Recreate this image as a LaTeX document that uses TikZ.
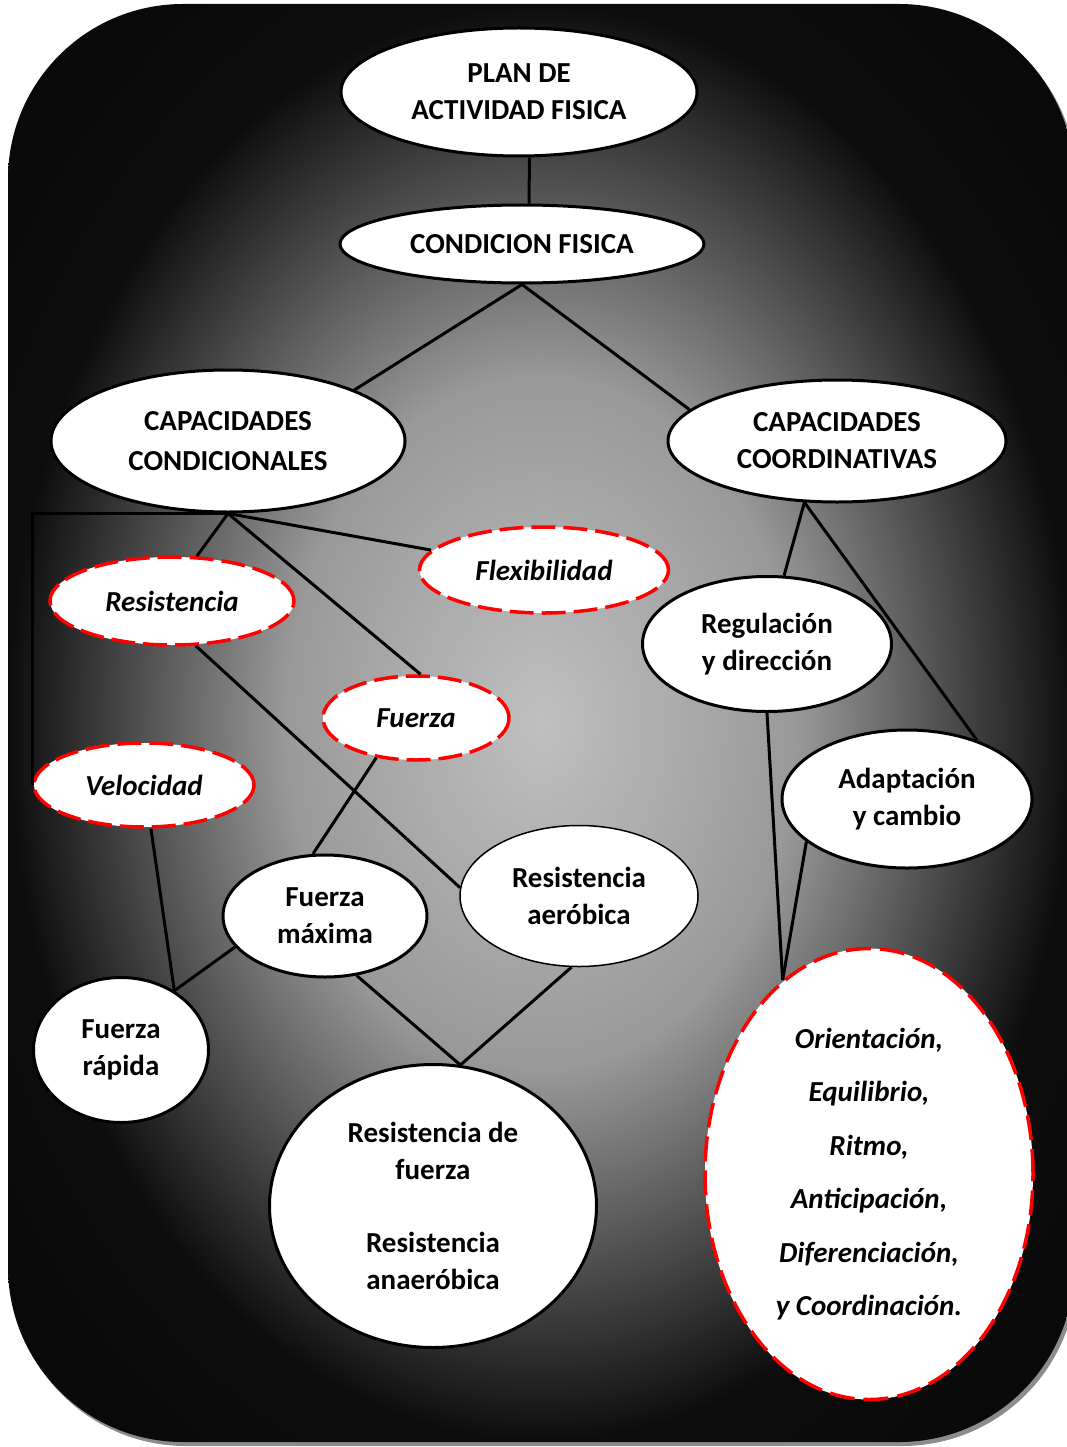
\documentclass[tikz,border=0pt]{standalone}
\usepackage{fontspec}
\setmainfont{Carlito}
\usepackage{tikz}
\usetikzlibrary{shapes.geometric}
\usetikzlibrary{calc}
\tikzset{node style ge/.style={ellipse,draw=black,line width=3pt,fill=white,inner sep=0pt,align=center,font=\bfseries\fontsize{29}{37}\selectfont}}
\tikzset{node style red/.style={node style ge,draw=red,line width=3.5pt,dash pattern=on 24pt off 8pt,font=\bfseries\itshape\fontsize{29}{37}\selectfont}}
\tikzset{line style ge/.style={line width=3pt,color=black}}
\pgfdeclareradialshading{bgshade}{\pgfpoint{0bp}{0bp}}{color(0bp)=(black!25); color(12bp)=(black!40); color(25bp)=(black!95); color(50bp)=(black)}

\begin{document}
\begin{tikzpicture}[x=1pt,y=-1pt]
   % [[[ background, rounded box with a grey shadow
   \useasboundingbox (0,0) rectangle (1066,1447);
   \fill [color=black!45,rounded corners=175pt] (11,8) rectangle (1077,1446);
   \shade [shading=bgshade,rounded corners=175pt] (8,4) rectangle (1074,1442);
   % ]]]

   % [[[ top of the tree
   \node (plan) [node style ge,minimum width=356pt,minimum height=128pt] at (519,92) {PLAN DE\\ACTIVIDAD FISICA};
   \node (cf) [node style ge,minimum width=364pt,minimum height=78pt] at (522,244) {CONDICION FISICA};
   \node (cc) [node style ge,minimum width=354pt,minimum height=142pt] at (228,441) {CAPACIDADES\\[3pt]CONDICIONALES};
   \node (co) [node style ge,minimum width=338pt,minimum height=122pt] at (837,441) {CAPACIDADES\\COORDINATIVAS};
   % ]]]

   % [[[ condicionales
   \node (flex) [node style red,minimum width=249pt,minimum height=86pt] at (544,570) {Flexibilidad};
   \node (res) [node style red,minimum width=244pt,minimum height=88pt] at (172,601) {Resistencia};
   \node (fue) [node style red,minimum width=186pt,minimum height=84pt] at (416,718) {Fuerza};
   \node (vel) [node style red,minimum width=220pt,minimum height=84pt] at (144,785) {Velocidad};
   \node (fm) [node style ge,minimum width=204pt,minimum height=122pt] at (325,916) {Fuerza\\máxima};
   \node (ra) [node style ge,line width=1.5pt,minimum width=238pt,minimum height=141pt] at (579,896) {Resistencia\\aeróbica};
   \node (fr) [node style ge,minimum width=175pt,minimum height=145pt] at (121,1050) {Fuerza\\rápida};
   \node (rf) [node style ge,minimum width=327pt,minimum height=283pt] at (433,1206) {Resistencia de\\fuerza\\[36pt]Resistencia\\anaeróbica};
   % ]]]

   % [[[ coordinativas
   \node (reg) [node style ge,minimum width=249pt,minimum height=135pt] at (767,644) {Regulación\\y dirección};
   \node (ada) [node style ge,minimum width=250pt,minimum height=138pt] at (907,799) {Adaptación\\y cambio};
   \node (ori) [node style red,dash pattern=on 25pt off 9pt,minimum width=328pt,minimum height=451pt,font=\bfseries\itshape\fontsize{29}{53.4}\selectfont] at (869,1174)
      {Orientación,\\Equilibrio,\\Ritmo,\\Anticipación,\\Diferenciación,\\y Coordinación.};
   % ]]]

   % [[[ connectors, anchors picked by eye
   \draw [line style ge] (plan.-81) to (cf.80);
   \draw [line style ge] (cf.south) to (cc.22);
   \draw [line style ge] (cf.south) to (co.168);
   \draw [line style ge] (cc.south) to (res.61);
   \draw [line style ge] (cc.south) to (fue.84);
   \draw [line style ge] (cc.south) to (flex.170);
   \draw [line style ge] (cc.south) -| (vel.west);
   \draw [line style ge] (res.-62) to (ra.176);
   \draw [line style ge] (fue.-135) to (fm.101);
   \draw [line style ge] (vel.-81) to (fr.48);
   \draw [line style ge] (fm.-161) to (fr.48);
   \draw [line style ge] (fm.-62) to (rf.79);
   \draw [line style ge] (ra.-96) to (rf.79);
   \draw [line style ge] (co.-118) to (reg.76);
   \draw [line style ge] (co.-118) to (ada.40);
   \draw [line style ge] (reg.south) to (ori.114);
   \draw [line style ge] (ada.-157) to (ori.114);
   % ]]]
\end{tikzpicture}
\end{document}
